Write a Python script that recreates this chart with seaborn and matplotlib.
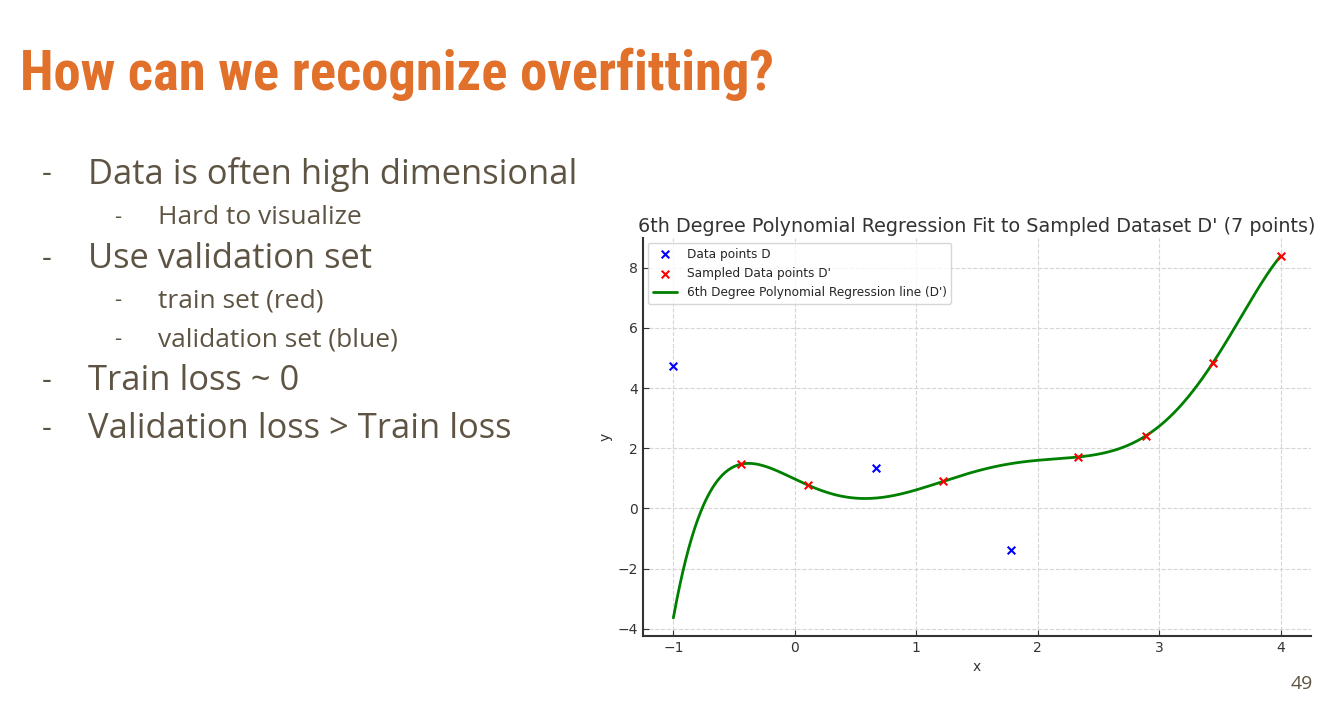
import numpy as np
import matplotlib.pyplot as plt
import seaborn as sns

# points
blue_x = [-1.0, 0.667, 1.778]
blue_y = [4.75, 1.34, -1.37]
red_x = [-0.444, 0.111, 1.222, 2.333, 2.889, 3.444, 4.0]
red_y = [1.47, 0.77, 0.90, 1.71, 2.41, 4.85, 8.39]

slide_title = "How can we recognize overfitting?"
bullets = [
    (0, "Data is often high dimensional"),
    (1, "Hard to visualize"),
    (0, "Use validation set"),
    (1, "train set (red)"),
    (1, "validation set (blue)"),
    (0, "Train loss ~ 0"),
    (0, "Validation loss > Train loss"),
]
bullet_y = [174, 217, 259, 301, 340, 381, 429]
page_no = "49"

sns.set_style("ticks", {"axes.grid": True, "grid.linestyle": "--", "grid.color": "#d6d6d6"})
plt.rcParams['font.family'] = ['DejaVu Sans']

W, H = 1336, 704
fig = plt.figure(figsize=(W / 100, H / 100), dpi=100)

# slide title, squeezed to the width it has on the slide
t = fig.text(20 / W, 1 - 90 / H, slide_title, color="#E0702A", fontsize=48, fontweight="bold",
             family=["Roboto Condensed", "Roboto"], fontstretch="condensed", va="baseline")
fig.canvas.draw()
tw = t.get_window_extent().width
t.set_fontsize(48 * 753 / tw)

brown = "#5E5443"
for (lvl, txt), y in zip(bullets, bullet_y):
    if lvl == 0:
        fig.text(42 / W, 1 - y / H, "-", color=brown, fontsize=22, family=["Open Sans"], va="center")
        fig.text(88 / W, 1 - y / H, txt, color=brown, fontsize=24.8, family=["Open Sans"], va="center")
    else:
        fig.text(114 / W, 1 - y / H, "-", color=brown, fontsize=16, family=["Open Sans"], va="center")
        fig.text(158 / W, 1 - y / H, txt, color=brown, fontsize=19, family=["Open Sans"], va="center")
fig.text(1313 / W, 1 - 684 / H, page_no, color=brown, fontsize=14, family=["Open Sans"],
         ha="right", va="center")

# chart
ax = fig.add_axes([643 / W, 1 - 636 / H, (1311 - 643) / W, (636 - 238) / H])
coef = np.polyfit(red_x, red_y, 6)
xs = np.linspace(min(blue_x + red_x), max(blue_x + red_x), 400)
ax.scatter(blue_x, blue_y, color="blue", marker="x", s=30, label="Data points D", zorder=3)
ax.scatter(red_x, red_y, color="red", marker="x", s=30, label="Sampled Data points D'", zorder=3)
sns.lineplot(x=xs, y=np.polyval(coef, xs), color="green", linewidth=2,
             label="6th Degree Polynomial Regression line (D')", ax=ax)
ax.set_title("6th Degree Polynomial Regression Fit to Sampled Dataset D' (7 points)",
             fontsize=13.8, color="#333333", pad=4)
ax.set_xlabel("x", fontsize=10, color="#333333")
ax.set_ylabel("y", fontsize=10, color="#333333")
ax.tick_params(direction="in", labelsize=10, colors="#333333", length=4)
ax.set_xticks([-1, 0, 1, 2, 3, 4])
ax.set_yticks([-4, -2, 0, 2, 4, 6, 8])
sns.despine(ax=ax)
for s in ["left", "bottom"]:
    ax.spines[s].set_color("#333333")
    ax.spines[s].set_linewidth(1.5)
ax.legend(loc="upper left", fontsize=8.7, frameon=True, borderaxespad=0.4)

fig.savefig("out.png", dpi=100)
